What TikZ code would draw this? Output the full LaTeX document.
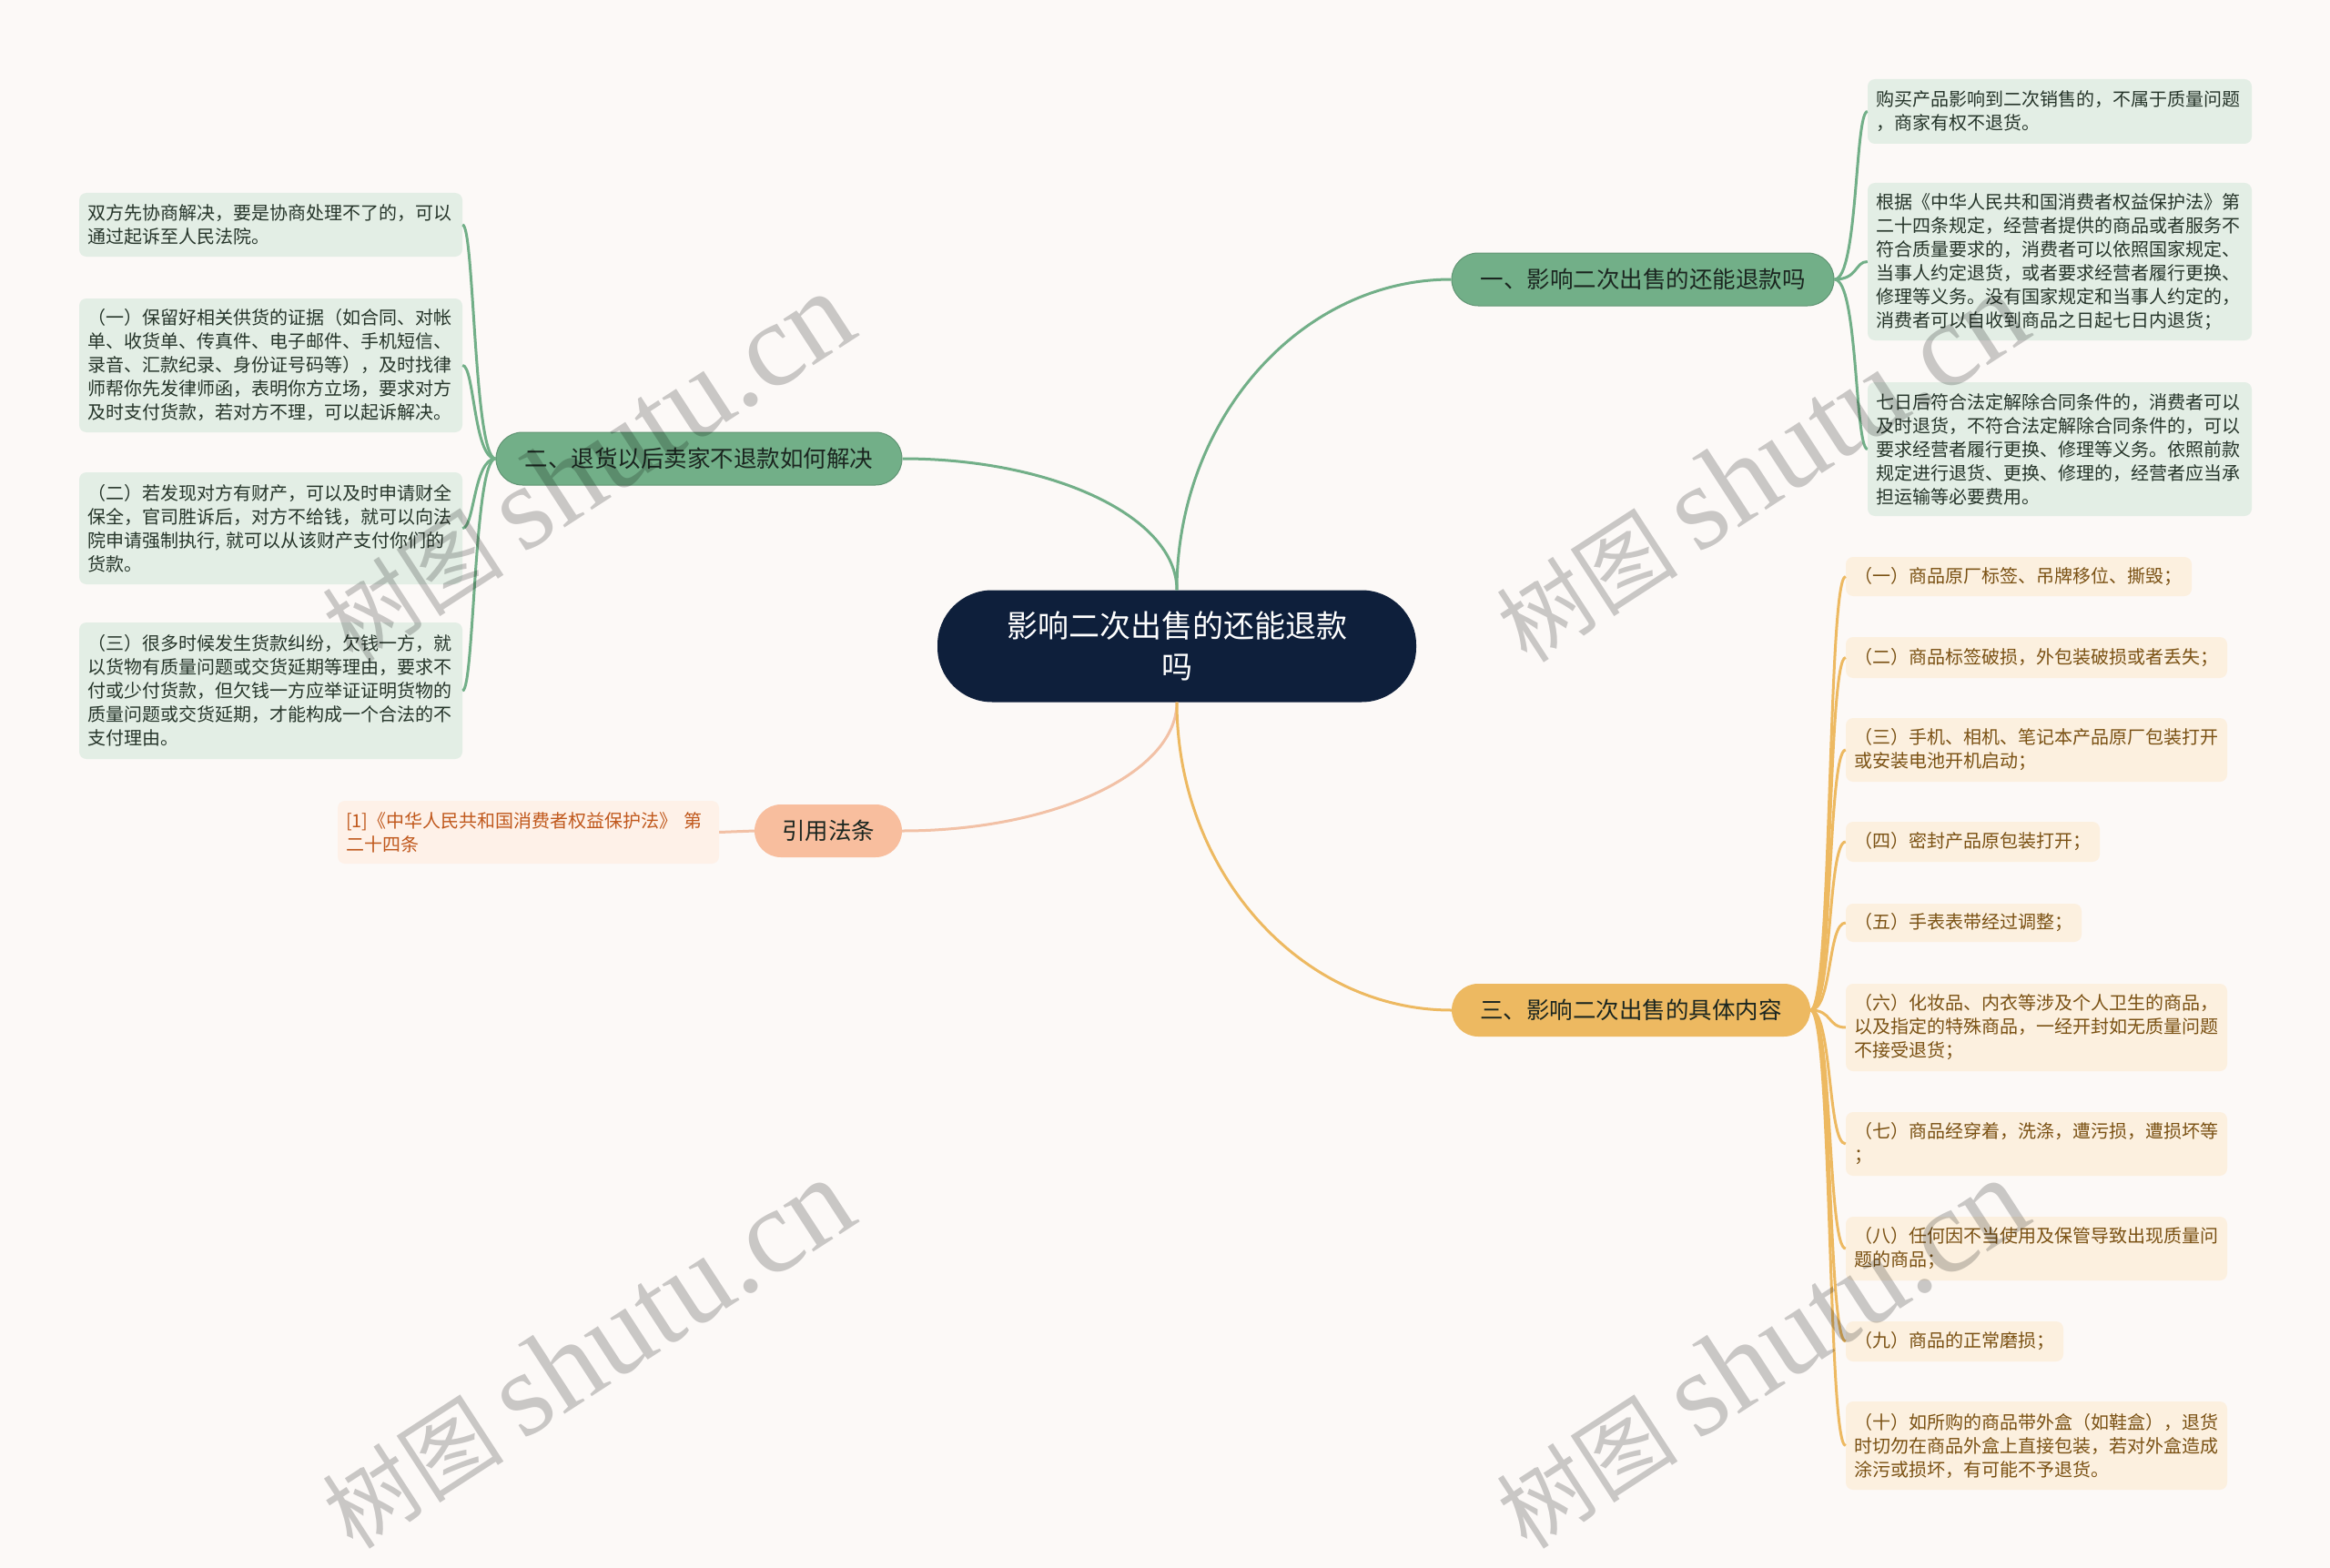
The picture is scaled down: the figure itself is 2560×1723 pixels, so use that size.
\documentclass[tikz,border=0pt]{standalone}
\usepackage{fontspec}
\setmainfont{Noto Sans CJK SC}
\newfontfamily\wmlatin{Liberation Serif}
\newfontfamily\cjkf{Noto Sans CJK SC}
\definecolor{bgc}{HTML}{FCF9F7}
\definecolor{navy}{HTML}{0E1F3B}
\definecolor{gfill}{HTML}{72AF88}
\definecolor{gleaf}{HTML}{E3EEE5}
\definecolor{gtext}{HTML}{26352A}
\definecolor{btext}{HTML}{1B2620}
\definecolor{sfill}{HTML}{F8BE9E}
\definecolor{sline}{HTML}{F2C1A6}
\definecolor{cleaf}{HTML}{FEF1E8}
\definecolor{ctext}{HTML}{C0581C}
\definecolor{ofill}{HTML}{EDB961}
\definecolor{oleaf}{HTML}{FCF0DF}
\definecolor{otext}{HTML}{7A5113}
\tikzset{
  centernode/.style={fill=navy, text=white, rounded corners=60pt, minimum width=526pt, minimum height=123pt, align=center, inner sep=0pt, font=\fontsize{34}{45}\selectfont},
  branchnode/.style={rounded corners=29pt, minimum height=58pt, inner sep=0pt, font=\fontsize{25.5}{30}\selectfont, text=btext},
  leafnode/.style={rounded corners=8pt, inner xsep=9pt, inner ysep=0pt, align=left, font=\fontsize{20}{26}\selectfont, text width=#1},
  gleafn/.style={leafnode=#1, fill=gleaf, text=gtext},
  oleafn/.style={leafnode=#1, fill=oleaf, text=otext},
  gcon/.style={draw=gfill, line width=3pt},
  scon/.style={draw=sline, line width=3pt},
  ocon/.style={draw=ofill, line width=3pt},
  wm/.style={text=black, text opacity=0.2, rotate=33, inner sep=0pt}
}
\begin{document}
\begin{tikzpicture}[x=1pt,y=-1pt]
\fill[bgc] (0,0) rectangle (2560,1723);
\useasboundingbox (0,0) rectangle (2560,1723);

% center
\node[centernode] (c) at (1293,710) {影响二次出售的还能退款\\吗};

% branches
\node[branchnode, fill=gfill, draw=gfill!85!black, line width=1pt, minimum width=420pt] (b1) at (1805,307) {一、影响二次出售的还能退款吗};
\node[branchnode, fill=gfill, draw=gfill!85!black, line width=1pt, minimum width=446pt] (b2) at (768,504) {二、退货以后卖家不退款如何解决};
\node[branchnode, fill=sfill, minimum width=162pt] (b3) at (910,913) {引用法条};
\node[branchnode, fill=ofill, minimum width=394pt] (b4) at (1792,1110) {三、影响二次出售的具体内容};

% right green leaves
\node[gleafn=404pt, minimum height=71pt] (r1) at (2263,122.5) {购买产品影响到二次销售的，不属于质量问题\\，商家有权不退货。};
\node[gleafn=404pt, minimum height=173pt] (r2) at (2263,287.5) {根据《中华人民共和国消费者权益保护法》第\\二十四条规定，经营者提供的商品或者服务不\\符合质量要求的，消费者可以依照国家规定、\\当事人约定退货，或者要求经营者履行更换、\\修理等义务。没有国家规定和当事人约定的，\\消费者可以自收到商品之日起七日内退货；};
\node[gleafn=404pt, minimum height=147pt] (r3) at (2263,493.5) {七日后符合法定解除合同条件的，消费者可以\\及时退货，不符合法定解除合同条件的，可以\\要求经营者履行更换、修理等义务。依照前款\\规定进行退货、更换、修理的，经营者应当承\\担运输等必要费用。};

% left green leaves
\node[gleafn=403pt, minimum height=70pt] (l1) at (297.5,247) {双方先协商解决，要是协商处理不了的，可以\\通过起诉至人民法院。};
\node[gleafn=403pt, minimum height=147pt] (l2) at (297.5,401.5) {（一）保留好相关供货的证据（如合同、对帐\\单、收货单、传真件、电子邮件、手机短信、\\录音、汇款纪录、身份证号码等），及时找律\\师帮你先发律师函，表明你方立场，要求对方\\及时支付货款，若对方不理，可以起诉解决。};
\node[gleafn=403pt, minimum height=123pt] (l3) at (297.5,580.5) {（二）若发现对方有财产，可以及时申请财全\\保全，官司胜诉后，对方不给钱，就可以向法\\院申请强制执行, 就可以从该财产支付你们的\\货款。};
\node[gleafn=403pt, minimum height=150pt] (l4) at (297.5,759) {（三）很多时候发生货款纠纷，欠钱一方，就\\以货物有质量问题或交货延期等理由，要求不\\付或少付货款，但欠钱一方应举证证明货物的\\质量问题或交货延期，才能构成一个合法的不\\支付理由。};

% citation leaf
\node[leafnode=401pt, fill=cleaf, text=ctext, minimum height=69pt] (cit) at (580.5,914.5) {[1]《中华人民共和国消费者权益保护法》 第\\二十四条};

% orange leaves
\node[oleafn=362pt, minimum height=43pt] (o1) at (2218,633.5) {（一）商品原厂标签、吊牌移位、撕毁；};
\node[oleafn=401pt, minimum height=45pt] (o2) at (2237.5,722.5) {（二）商品标签破损，外包装破损或者丢失；};
\node[oleafn=401pt, minimum height=70pt] (o3) at (2237.5,824) {（三）手机、相机、笔记本产品原厂包装打开\\或安装电池开机启动；};
\node[oleafn=261pt, minimum height=44pt] (o4) at (2167.5,925) {（四）密封产品原包装打开；};
\node[oleafn=241pt, minimum height=42pt] (o5) at (2157.5,1014) {（五）手表表带经过调整；};
\node[oleafn=401pt, minimum height=96pt] (o6) at (2237.5,1129) {（六）化妆品、内衣等涉及个人卫生的商品，\\以及指定的特殊商品，一经开封如无质量问题\\不接受退货；};
\node[oleafn=401pt, minimum height=70pt] (o7) at (2237.5,1257) {（七）商品经穿着，洗涤，遭污损，遭损坏等\\；};
\node[oleafn=401pt, minimum height=70pt] (o8) at (2237.5,1372) {（八）任何因不当使用及保管导致出现质量问\\题的商品；};
\node[oleafn=221pt, minimum height=44pt] (o9) at (2147.5,1474) {（九）商品的正常磨损；};
\node[oleafn=401pt, minimum height=97pt] (o10) at (2237.5,1588.5) {（十）如所购的商品带外盒（如鞋盒），退货\\时切勿在商品外盒上直接包装，若对外盒造成\\涂污或损坏，有可能不予退货。};

% center to branches
\draw[gcon] (c.north) .. controls +(0,-187) and +(-166,0) .. (b1.west);
\draw[gcon] (c.north) .. controls +(0,-80) and +(166,0) .. (b2.east);
\draw[scon] (c.south) .. controls +(0,78) and +(166,0) .. (b3.east);
\draw[ocon] (c.south) .. controls +(0,186) and +(-166,0) .. (b4.west);

% branches to leaves
\foreach \n in {r1,r2,r3}
  \draw[gcon] (b1.east) .. controls +(26,0) and +(-14,0) .. (\n.west);
\foreach \n in {l1,l2,l3,l4}
  \draw[gcon] (b2.west) .. controls +(-24,0) and +(13,0) .. (\n.east);
\draw[scon] (b3.west) -- (cit.east);
\foreach \n in {o1,o2,o3,o4,o5,o6,o7,o8,o9,o10}
  \draw[ocon] (b4.east) .. controls +(24,0) and +(-20,0) .. (\n.west);

% watermarks
\node[wm] (w1) at (645,514) {\fontsize{100}{100}\selectfont\cjkf 树图 {\wmlatin\fontsize{132}{130}\selectfont shutu.cn}};
\node[wm] (w2) at (1935,514) {\fontsize{100}{100}\selectfont\cjkf 树图 {\wmlatin\fontsize{132}{130}\selectfont shutu.cn}};
\node[wm] (w3) at (645,1488) {\fontsize{100}{100}\selectfont\cjkf 树图 {\wmlatin\fontsize{132}{130}\selectfont shutu.cn}};
\node[wm] (w4) at (1935,1488) {\fontsize{100}{100}\selectfont\cjkf 树图 {\wmlatin\fontsize{132}{130}\selectfont shutu.cn}};
\end{tikzpicture}
\end{document}
